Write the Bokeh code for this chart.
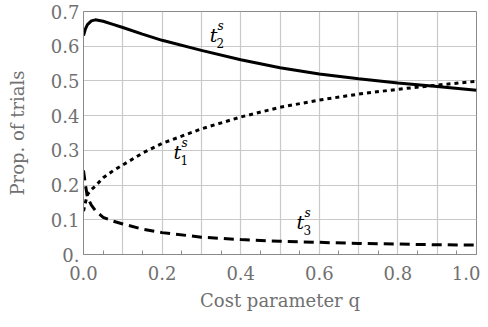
from bokeh.plotting import figure
from bokeh.models import FixedTicker, ColumnDataSource
from bokeh.core.properties import value
from bokeh.embed import file_html
from bokeh.resources import INLINE

q = [0.0, 0.005, 0.01, 0.02, 0.03, 0.05, 0.075, 0.1, 0.15, 0.2, 0.3, 0.4, 0.5, 0.6, 0.7, 0.8, 0.9, 1.0]
t1 = [0.125, 0.150, 0.173, 0.187, 0.197, 0.221, 0.241, 0.258, 0.292, 0.320, 0.362, 0.396, 0.424, 0.445, 0.462, 0.476, 0.488, 0.499]
t2 = [0.631, 0.650, 0.662, 0.673, 0.676, 0.672, 0.663, 0.654, 0.635, 0.617, 0.588, 0.561, 0.538, 0.520, 0.506, 0.494, 0.484, 0.473]
t3 = [0.242, 0.200, 0.165, 0.142, 0.127, 0.107, 0.096, 0.088, 0.073, 0.063, 0.050, 0.043, 0.038, 0.035, 0.032, 0.030, 0.028, 0.027]

x_ticks = [0.0, 0.2, 0.4, 0.6, 0.8, 1.0]
x_tick_labels = ["0.0", "0.2", "0.4", "0.6", "0.8", "1.0"]
y_ticks = [0.0, 0.1, 0.2, 0.3, 0.4, 0.5, 0.6, 0.7]
y_tick_labels = ["0.", "0.1", "0.2", "0.3", "0.4", "0.5", "0.6", "0.7"]
grid_x = [0.1 * i for i in range(11)]
minor_x = [0.05 + 0.1 * i for i in range(10)]

label_q = [0.239, 0.331, 0.552]
label_v = [0.294, 0.631, 0.095]
label_sub = ["1", "2", "3"]

FONT = "DejaVu Serif"
GRAY = "#707070"

p = figure(width=480, height=319, x_range=(0, 1), y_range=(0, 0.7),
           output_backend="svg", toolbar_location=None,
           min_border_left=83, min_border_right=4, min_border_top=11, min_border_bottom=65)
p.background_fill_color = "white"
p.border_fill_color = "white"
p.outline_line_color = "#8a8a8a"
p.outline_line_width = 1

p.xgrid.ticker = FixedTicker(ticks=grid_x)
p.ygrid.ticker = FixedTicker(ticks=y_ticks)
for g in (p.xgrid, p.ygrid):
    g.grid_line_color = "#c9c9c9"
    g.grid_line_width = 1.2

p.xaxis.ticker = FixedTicker(ticks=x_ticks, minor_ticks=minor_x)
p.xaxis.major_label_overrides = dict(zip(x_ticks, x_tick_labels))
p.yaxis.ticker = FixedTicker(ticks=y_ticks)
p.yaxis.major_label_overrides = dict(zip(y_ticks, y_tick_labels))

for ax in (p.xaxis[0], p.yaxis[0]):
    ax.axis_line_color = "#8a8a8a"
    ax.major_tick_in = 0
    ax.major_tick_out = 0
    ax.minor_tick_out = 0
    ax.major_label_text_font = FONT
    ax.major_label_text_font_size = "18px"
    ax.major_label_text_color = GRAY
    ax.axis_label_text_font = FONT
    ax.axis_label_text_font_size = "18px"
    ax.axis_label_text_color = GRAY
    ax.axis_label_text_font_style = "normal"

p.xaxis.minor_tick_in = 4
p.xaxis.minor_tick_line_color = "#8a8a8a"
p.yaxis.minor_tick_in = 0
p.yaxis.minor_tick_line_color = None
p.xaxis.major_label_standoff = 11
p.yaxis.major_label_standoff = 4
p.xaxis.axis_label = "Cost parameter q"
p.yaxis.axis_label = "Prop. of trials"
p.xaxis.axis_label_standoff = 7
p.yaxis.axis_label_standoff = 20

p.line(q, t2, line_color="black", line_width=3)
p.line(q, t1, line_color="black", line_width=3, line_dash="4 4")
p.line(q, t3, line_color="black", line_width=3, line_dash="10 6")

src = ColumnDataSource(dict(x=label_q, y=label_v, sub=label_sub,
                            t=["t"] * 3, s=["s"] * 3))
p.text(x="x", y="y", text="t", source=src, text_font=value(FONT), text_font_style="italic",
       text_font_size="19px", text_align="center", text_baseline="middle", text_color="black")
p.text(x="x", y="y", text="s", source=src, text_font=value(FONT), text_font_style="italic",
       text_font_size="12px", text_align="left", text_baseline="middle", text_color="black",
       x_offset=4, y_offset=-9)
p.text(x="x", y="y", text="sub", source=src, text_font=value(FONT),
       text_font_size="12px", text_align="left", text_baseline="middle", text_color="black",
       x_offset=3, y_offset=8)

open("out.html", "w").write(file_html(p, INLINE))
